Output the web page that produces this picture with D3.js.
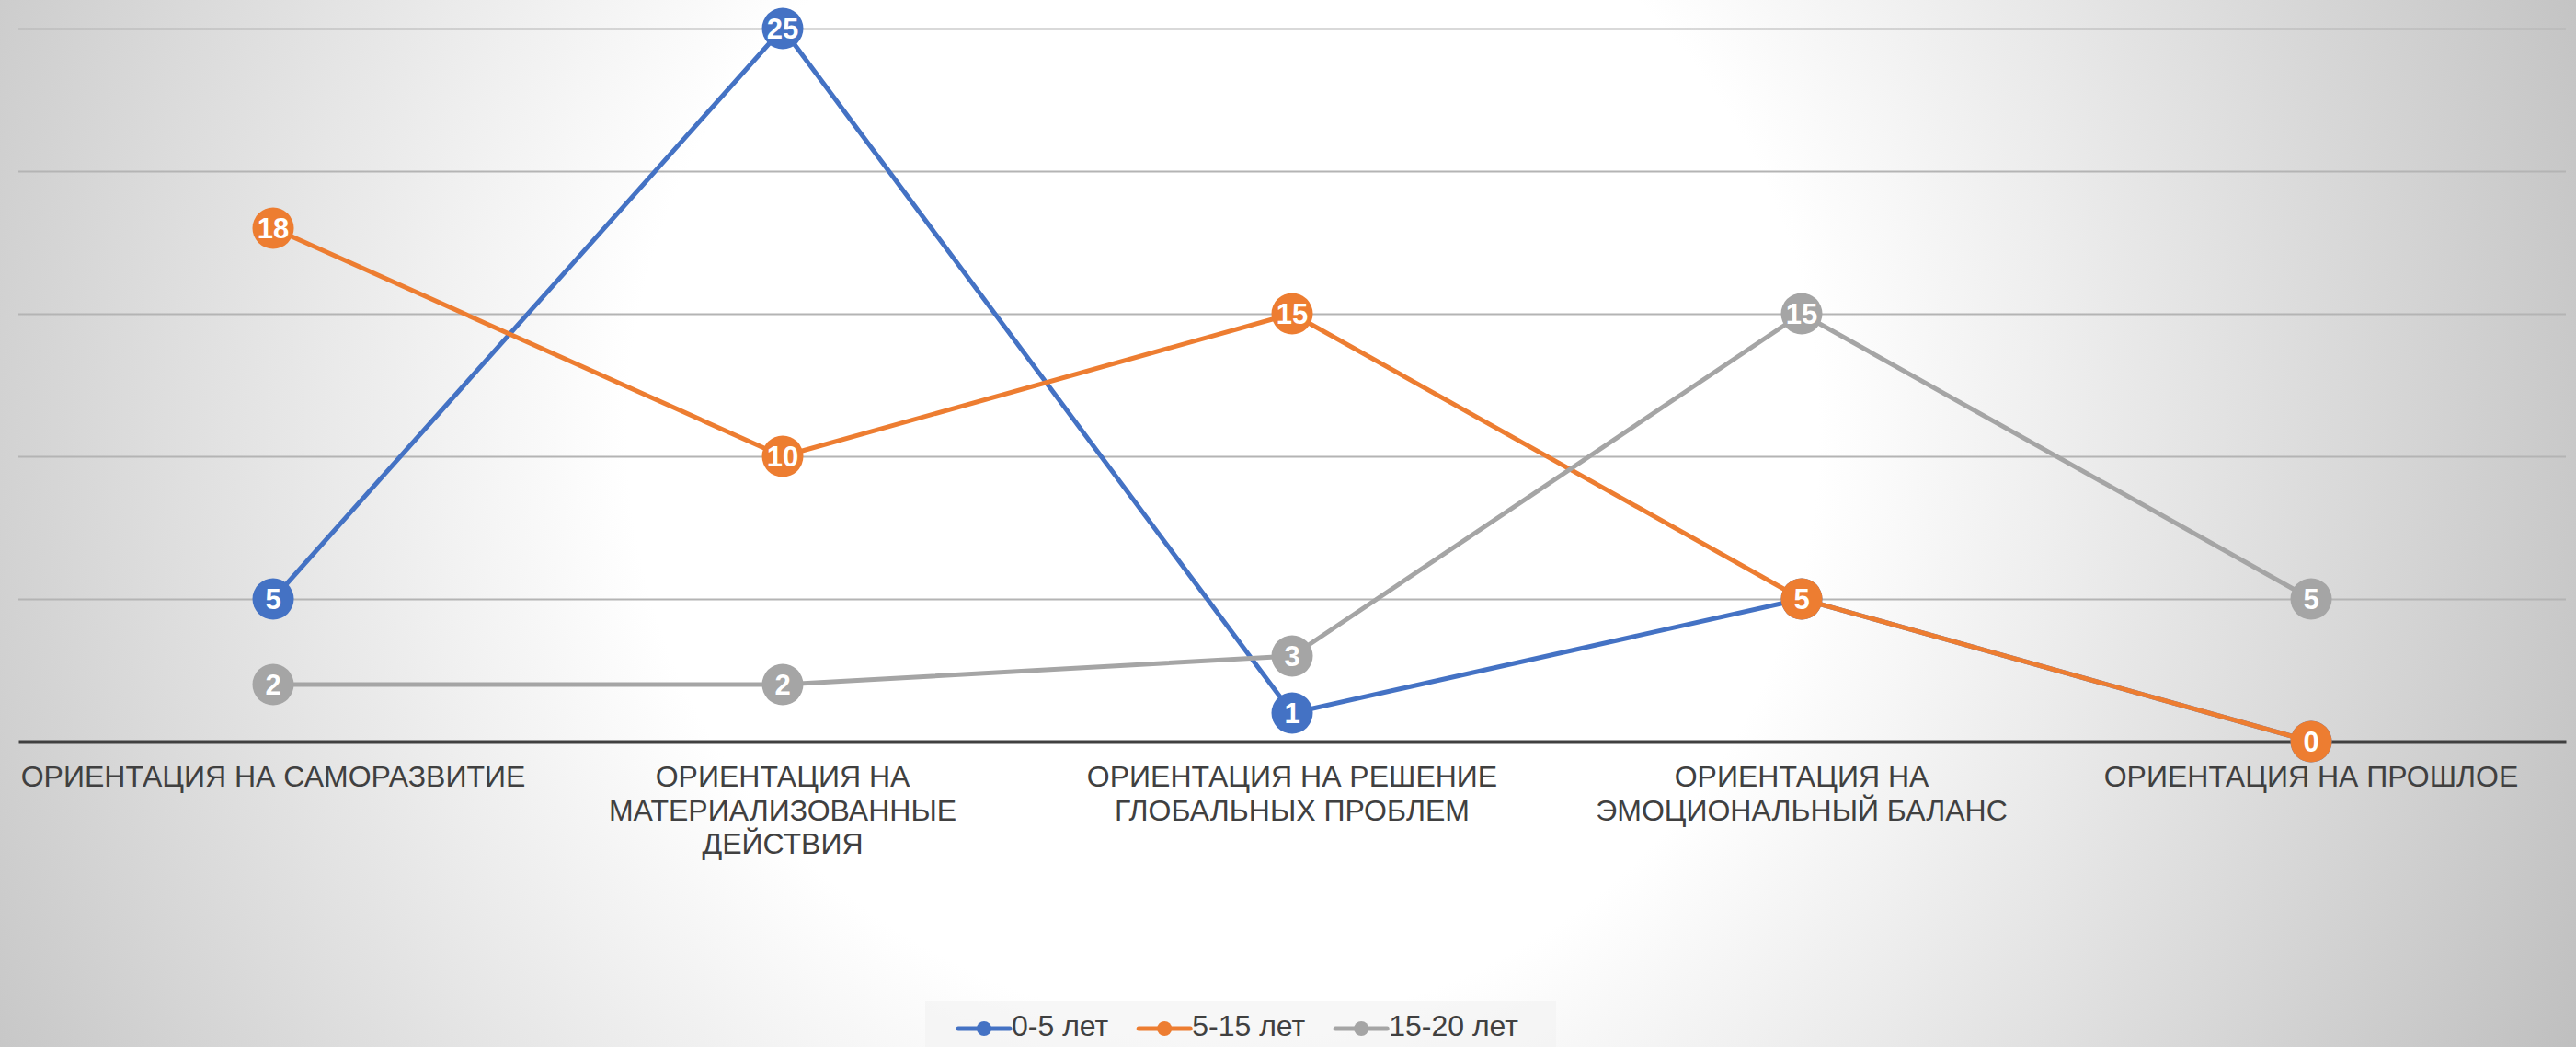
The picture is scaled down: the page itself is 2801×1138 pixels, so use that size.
<!DOCTYPE html>
<html>
<head>
<meta charset="utf-8">
<script src="https://cdn.jsdelivr.net/npm/d3@7"></script>
<style>
  body { margin: 0; overflow: hidden; }
  svg { display: block; font-family: "Liberation Sans", Arial, sans-serif; }
</style>
</head>
<body>
<svg id="chart"></svg>
<script>

var categories = [
  "ОРИЕНТАЦИЯ НА САМОРАЗВИТИЕ",
  "ОРИЕНТАЦИЯ НА\nМАТЕРИАЛИЗОВАННЫЕ\nДЕЙСТВИЯ",
  "ОРИЕНТАЦИЯ НА РЕШЕНИЕ\nГЛОБАЛЬНЫХ ПРОБЛЕМ",
  "ОРИЕНТАЦИЯ НА\nЭМОЦИОНАЛЬНЫЙ БАЛАНС",
  "ОРИЕНТАЦИЯ НА ПРОШЛОЕ"
];
var seriesNames = ["0-5 лет", "5-15 лет", "15-20 лет"];
var values0to5 = [5, 25, 1, 5, 0];
var values5to15 = [18, 10, 15, 5, 0];
var values15to20 = [2, 2, 3, 15, 5];
var gridTicks = [5, 10, 15, 20, 25];

var SERIES_COLORS = ['#4472C4', '#ED7D31', '#A5A5A5'];
var TEXT_COLOR = '#404040';

var w = 2801;
var h = 1138;
var plotLeft = 20, plotRight = 2790, plotTop = 31, plotBottom = 806;

var series = [values0to5, values5to15, values15to20].map(function(v, i) {
  return { name: seriesNames[i], values: v, color: SERIES_COLORS[i] };
});

var svg = d3.select("#chart").attr("width", w).attr("height", h);

// background radial shading
var grad = svg.append("defs").append("radialGradient")
  .attr("id", "bg")
  .attr("gradientUnits", "userSpaceOnUse")
  .attr("cx", 1330).attr("cy", 468).attr("r", 1620);
grad.append("stop").attr("offset", 0).attr("stop-color", "#ffffff");
grad.append("stop").attr("offset", 0.4).attr("stop-color", "#ffffff");
grad.append("stop").attr("offset", 1).attr("stop-color", "#bfbfbf");
svg.append("rect").attr("width", w).attr("height", h).attr("fill", "url(#bg)");

var xScale = d3.scaleBand().domain(categories).range([plotLeft, plotRight]).padding(0);
var yScale = d3.scaleLinear().domain([0, 25]).range([plotBottom, plotTop]);

function xc(i) {
  return xScale(categories[i]) + xScale.bandwidth() / 2;
}

// gridlines
var grid = svg.append("g")
  .attr("transform", "translate(" + plotLeft + ",0)")
  .call(d3.axisLeft(yScale).tickValues(gridTicks).tickSize(-(plotRight - plotLeft)).tickFormat(""));
grid.select(".domain").remove();
grid.selectAll(".tick line").attr("stroke", "#b4b4b4").attr("stroke-width", 2);

// category axis
var xAxis = svg.append("g")
  .attr("transform", "translate(0," + plotBottom + ")")
  .call(d3.axisBottom(xScale).tickSize(0).tickSizeOuter(0));
xAxis.select(".domain").attr("stroke", TEXT_COLOR).attr("stroke-width", 4);
xAxis.selectAll(".tick text").each(function(d) {
  var t = d3.select(this);
  var lines = d.split("\n");
  t.text(null)
    .attr("y", 49)
    .attr("dy", null)
    .attr("fill", TEXT_COLOR)
    .style("font-size", "32px")
    .style("font-family", "'Liberation Sans', Arial, sans-serif");
  lines.forEach(function(s, k) {
    t.append("tspan").attr("x", 0).attr("y", 49 + k * 36.5).text(s);
  });
});

// series lines, markers and labels
var line = d3.line()
  .x(function(d, i) { return xc(i); })
  .y(function(d) { return yScale(d); });

series.forEach(function(s) {
  var g = svg.append("g");
  g.append("path")
    .datum(s.values)
    .attr("d", line)
    .attr("fill", "none")
    .attr("stroke", s.color)
    .attr("stroke-width", 5)
    .attr("stroke-linejoin", "round");
  var pts = g.selectAll("g.pt")
    .data(s.values)
    .enter()
      .append("g")
      .attr("class", "pt")
      .attr("transform", function(d, i) { return "translate(" + xc(i) + "," + yScale(d) + ")"; });
  pts.append("circle").attr("r", 22.5).attr("fill", s.color);
  pts.append("text")
    .attr("text-anchor", "middle")
    .attr("dy", "0.36em")
    .attr("fill", "#ffffff")
    .style("font-size", "31px")
    .style("font-weight", "bold")
    .text(function(d) { return d; });
});

// legend
var legend = svg.append("g");
legend.append("rect")
  .attr("x", 1006).attr("y", 1088)
  .attr("width", 686).attr("height", 60)
  .attr("fill", "#f2f2f2").attr("opacity", 0.6);

var cursor = 1042;
series.forEach(function(s) {
  var item = legend.append("g");
  item.append("line")
    .attr("x1", cursor).attr("x2", cursor + 56)
    .attr("y1", 1118).attr("y2", 1118)
    .attr("stroke", s.color).attr("stroke-width", 5).attr("stroke-linecap", "round");
  item.append("circle").attr("cx", cursor + 28).attr("cy", 1118).attr("r", 8).attr("fill", s.color);
  var txt = item.append("text")
    .attr("x", cursor + 58).attr("y", 1126)
    .attr("fill", TEXT_COLOR)
    .style("font-size", "32px")
    .text(s.name);
  cursor += 58 + txt.node().getComputedTextLength() + 33;
});

</script>
</body>
</html>
